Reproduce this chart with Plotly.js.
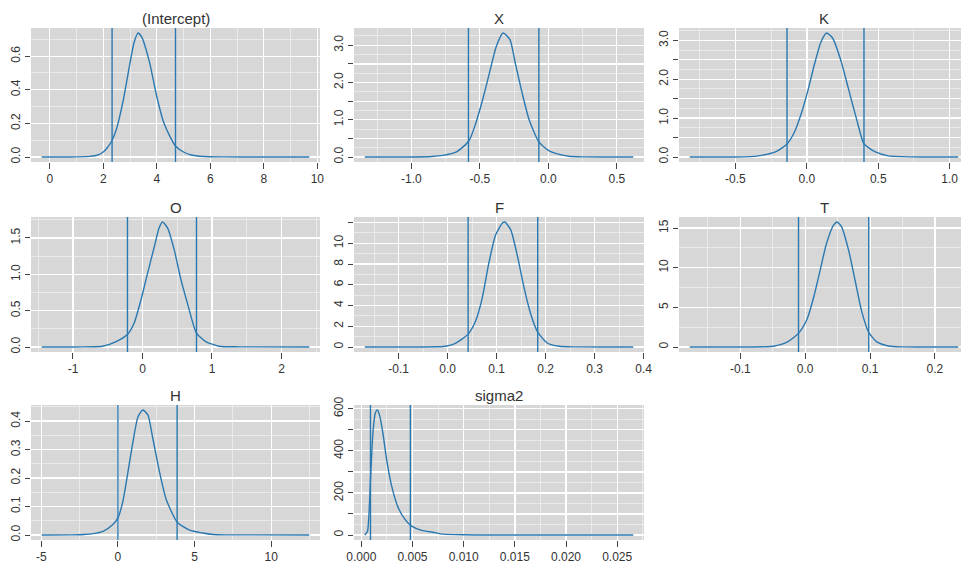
<!DOCTYPE html>
<html><head><meta charset="utf-8">
<script src="https://cdn.plot.ly/plotly-3.0.1.min.js"></script>
<style>html,body{margin:0;padding:0;background:#fff}#chart{width:961px;height:567px}</style>
</head><body><div id="chart"></div>
<script>
// ---------- data ----------
const panelTitles = ["(Intercept)", "X", "K", "O", "F", "T", "H", "sigma2"];

const intercept_x = [-0.3, 0.5, 1.0, 1.5, 1.8, 2.0, 2.15, 2.33, 2.5, 2.75, 3.0, 3.15, 3.3, 3.45, 3.6, 3.75, 4.0, 4.25, 4.5, 4.7, 5.0, 5.3, 5.75, 6.5, 8.0, 9.7];
const intercept_y = [0, 0, 0.001, 0.004, 0.012, 0.03, 0.055, 0.10, 0.17, 0.34, 0.56, 0.68, 0.738, 0.71, 0.64, 0.55, 0.36, 0.21, 0.12, 0.066, 0.03, 0.012, 0.003, 0.001, 0, 0];

const X_x = [-1.34, -1.0, -0.85, -0.77, -0.67, -0.58, -0.53, -0.48, -0.43, -0.38, -0.33, -0.28, -0.24, -0.19, -0.14, -0.07, 0.0, 0.08, 0.15, 0.25, 0.62];
const X_y = [0, 0.002, 0.015, 0.045, 0.14, 0.43, 0.90, 1.53, 2.25, 2.97, 3.33, 3.15, 2.50, 1.70, 1.00, 0.41, 0.18, 0.07, 0.02, 0.004, 0];

const K_x = [-0.82, -0.5, -0.4, -0.34, -0.22, -0.14, -0.086, -0.039, 0.008, 0.055, 0.10, 0.137, 0.18, 0.24, 0.29, 0.35, 0.40, 0.48, 0.57, 0.67, 0.8, 1.06];
const K_y = [0, 0.002, 0.01, 0.03, 0.13, 0.33, 0.65, 1.12, 1.72, 2.41, 2.97, 3.19, 3.06, 2.46, 1.77, 0.95, 0.34, 0.13, 0.03, 0.01, 0.002, 0];

const O_x = [-1.45, -1.0, -0.7, -0.575, -0.38, -0.21, -0.12, -0.024, 0.072, 0.17, 0.24, 0.288, 0.36, 0.456, 0.55, 0.65, 0.777, 0.91, 1.1, 1.4, 2.40];
const O_y = [0, 0.001, 0.004, 0.01, 0.075, 0.18, 0.33, 0.64, 1.01, 1.38, 1.64, 1.72, 1.64, 1.34, 0.94, 0.59, 0.19, 0.075, 0.01, 0.002, 0];

const F_x = [-0.169, -0.05, -0.02, -0.005, 0.016, 0.042, 0.057, 0.071, 0.084, 0.098, 0.112, 0.117, 0.129, 0.143, 0.156, 0.170, 0.184, 0.204, 0.228, 0.26, 0.379];
const F_y = [0, 0.005, 0.02, 0.07, 0.36, 1.24, 2.48, 4.77, 8.04, 10.8, 11.96, 12.06, 11.3, 8.69, 5.75, 3.14, 1.44, 0.36, 0.07, 0.01, 0];

const T_x = [-0.178, -0.08, -0.06, -0.049, -0.028, -0.010, 0.0026, 0.013, 0.023, 0.033, 0.044, 0.049, 0.056, 0.067, 0.077, 0.087, 0.098, 0.110, 0.128, 0.15, 0.236];
const T_y = [0, 0.005, 0.03, 0.09, 0.6, 1.75, 3.46, 6.24, 9.66, 13.1, 15.4, 15.77, 15.2, 12.2, 8.38, 4.53, 1.84, 0.68, 0.13, 0.01, 0];

const H_x = [-4.97, -3.0, -2.2, -1.63, -0.97, -0.33, 0.0, 0.33, 0.65, 0.98, 1.31, 1.63, 1.96, 2.28, 2.72, 3.15, 3.87, 4.67, 5.53, 6.19, 7.0, 12.48];
const H_y = [0, 0.0005, 0.002, 0.005, 0.013, 0.037, 0.06, 0.12, 0.22, 0.327, 0.415, 0.439, 0.421, 0.338, 0.22, 0.125, 0.045, 0.017, 0.007, 0.002, 0.0005, 0];

const sigma2_x = [0.00033, 0.0006, 0.00075, 0.00091, 0.00114, 0.00137, 0.00157, 0.0018, 0.00213, 0.00245, 0.00295, 0.0036, 0.00426, 0.00491, 0.0059, 0.0070, 0.0080, 0.0100, 0.0121, 0.02657];
const sigma2_y = [0, 18, 106, 283, 492, 581, 594, 565, 476, 364, 235, 130, 74, 42, 22, 13, 4, 1, 0, 0];

const ci_intercept = [2.33, 4.70];
const ci_X = [-0.583, -0.069];
const ci_K = [-0.139, 0.40];
const ci_O = [-0.216, 0.777];
const ci_F = [0.042, 0.184];
const ci_T = [-0.0103, 0.098];
const ci_H = [0.0, 3.86];
const ci_sigma2 = [0.00089, 0.00479];

const xTickVals = [
  [0, 2, 4, 6, 8, 10],
  [-1.0, -0.5, 0.0, 0.5],
  [-0.5, 0.0, 0.5, 1.0],
  [-1, 0, 1, 2],
  [-0.1, 0.0, 0.1, 0.2, 0.3, 0.4],
  [-0.1, 0.0, 0.1, 0.2],
  [-5, 0, 5, 10],
  [0.000, 0.005, 0.010, 0.015, 0.020, 0.025]
];
const xTickText = [
  ["0", "2", "4", "6", "8", "10"],
  ["-1.0", "-0.5", "0.0", "0.5"],
  ["-0.5", "0.0", "0.5", "1.0"],
  ["-1", "0", "1", "2"],
  ["-0.1", "0.0", "0.1", "0.2", "0.3", "0.4"],
  ["-0.1", "0.0", "0.1", "0.2"],
  ["-5", "0", "5", "10"],
  ["0.000", "0.005", "0.010", "0.015", "0.020", "0.025"]
];
const yTickVals = [
  [0, 0.2, 0.4, 0.6],
  [0, 0.5, 1.0, 1.5, 2.0, 2.5, 3.0],
  [0, 0.5, 1.0, 1.5, 2.0, 2.5, 3.0],
  [0, 0.5, 1.0, 1.5],
  [0, 2, 4, 6, 8, 10, 12],
  [0, 5, 10, 15],
  [0, 0.1, 0.2, 0.3, 0.4],
  [0, 100, 200, 300, 400, 500, 600]
];
const yTickText = [
  ["0.0", "0.2", "0.4", "0.6"],
  ["0.0", "", "1.0", "", "2.0", "", "3.0"],
  ["0.0", "", "1.0", "", "2.0", "", "3.0"],
  ["0.0", "0.5", "1.0", "1.5"],
  ["0", "2", "4", "6", "8", "10", ""],
  ["0", "5", "10", "15"],
  ["0.0", "0.1", "0.2", "0.3", "0.4"],
  ["0", "", "200", "", "400", "", "600"]
];

// ---------- build ----------
const seriesX = [intercept_x, X_x, K_x, O_x, F_x, T_x, H_x, sigma2_x];
const seriesY = [intercept_y, X_y, K_y, O_y, F_y, T_y, H_y, sigma2_y];
const cis = [ci_intercept, ci_X, ci_K, ci_O, ci_F, ci_T, ci_H, ci_sigma2];

const W = 961, H = 567;
const colL = [31, 354, 679], colW = [289, 290, 290];
const rowT = [28, 217, 405], rowH = [134, 135, 135];
const blue = '#2a78b0';
const font = 'Liberation Sans, Arial, sans-serif';

const data = [], shapes = [], annotations = [];
const layout = {
  width: W, height: H, margin: {l: 0, r: 0, t: 0, b: 0},
  paper_bgcolor: '#ffffff', plot_bgcolor: '#d7d7d7',
  showlegend: false, font: {family: font, size: 12, color: '#333'}
};

seriesX.forEach((xs, i) => {
  const ys = seriesY[i];
  const r = Math.floor(i / 3), c = i % 3;
  const sfx = i === 0 ? '' : String(i + 1);
  const xmin = Math.min(...xs), xmax = Math.max(...xs), w = xmax - xmin;
  let r0 = xmin - 0.04 * w, r1 = xmax + 0.04 * w;
  const left = colL[c];
  const fullRight = left + colW[c];
  let right = fullRight;
  if (right > W) { r1 = r0 + (r1 - r0) * (W - left) / colW[c]; right = W; }
  const ymax = Math.max(...ys);
  const top = rowT[r], bottom = rowT[r] + rowH[r];

  const xdt = xTickVals[i][1] - xTickVals[i][0];
  const ydt = yTickVals[i][1] - yTickVals[i][0];

  layout['xaxis' + sfx] = {
    domain: [left / W, right / W], range: [r0, r1], anchor: 'y' + sfx,
    tickmode: 'array', tickvals: xTickVals[i], ticktext: xTickText[i],
    ticks: 'outside', ticklen: 6, tickwidth: 1, tickcolor: '#444',
    showline: false, zeroline: false,
    showgrid: true, gridcolor: '#ffffff', gridwidth: 1.3,
    minor: {tickmode: 'linear', tick0: 0, dtick: xdt / 2, showgrid: true, gridcolor: '#ececec', gridwidth: 0.9, ticklen: 0},
    tickfont: {family: font, size: 12, color: '#333'}, fixedrange: true
  };
  layout['yaxis' + sfx] = {
    domain: [1 - bottom / H, 1 - top / H], range: [-0.04 * ymax, 1.04 * ymax], anchor: 'x' + sfx,
    tickmode: 'array', tickvals: yTickVals[i], ticktext: yTickText[i], tickangle: -90,
    ticks: 'outside', ticklen: 5, tickwidth: 1, tickcolor: '#444',
    showline: false, zeroline: false,
    showgrid: true, gridcolor: '#ffffff', gridwidth: 1.3,
    minor: {tickmode: 'linear', tick0: 0, dtick: ydt / 2, showgrid: true, gridcolor: '#ececec', gridwidth: 0.9, ticklen: 0},
    tickfont: {family: font, size: 12, color: '#333'}, fixedrange: true
  };

  data.push({
    type: 'scatter', mode: 'lines', x: xs, y: ys,
    xaxis: 'x' + sfx, yaxis: 'y' + sfx,
    line: {color: blue, width: 1.4, shape: 'spline', smoothing: 0.6}, hoverinfo: 'skip'
  });

  cis[i].forEach(v => {
    shapes.push({
      type: 'line', xref: 'x' + sfx, yref: 'y' + sfx + ' domain',
      x0: v, x1: v, y0: 0, y1: 1, line: {color: blue, width: 1.4}
    });
  });

  annotations.push({
    xref: 'paper', yref: 'paper',
    x: ((left + fullRight) / 2) / W, y: 1 - (top - 10) / H,
    xanchor: 'center', yanchor: 'middle', showarrow: false,
    text: panelTitles[i], font: {family: font, size: 15, color: '#333'}
  });
});

layout.shapes = shapes;
layout.annotations = annotations;

Plotly.newPlot('chart', data, layout, {staticPlot: true, displayModeBar: false});
</script>
</body></html>
